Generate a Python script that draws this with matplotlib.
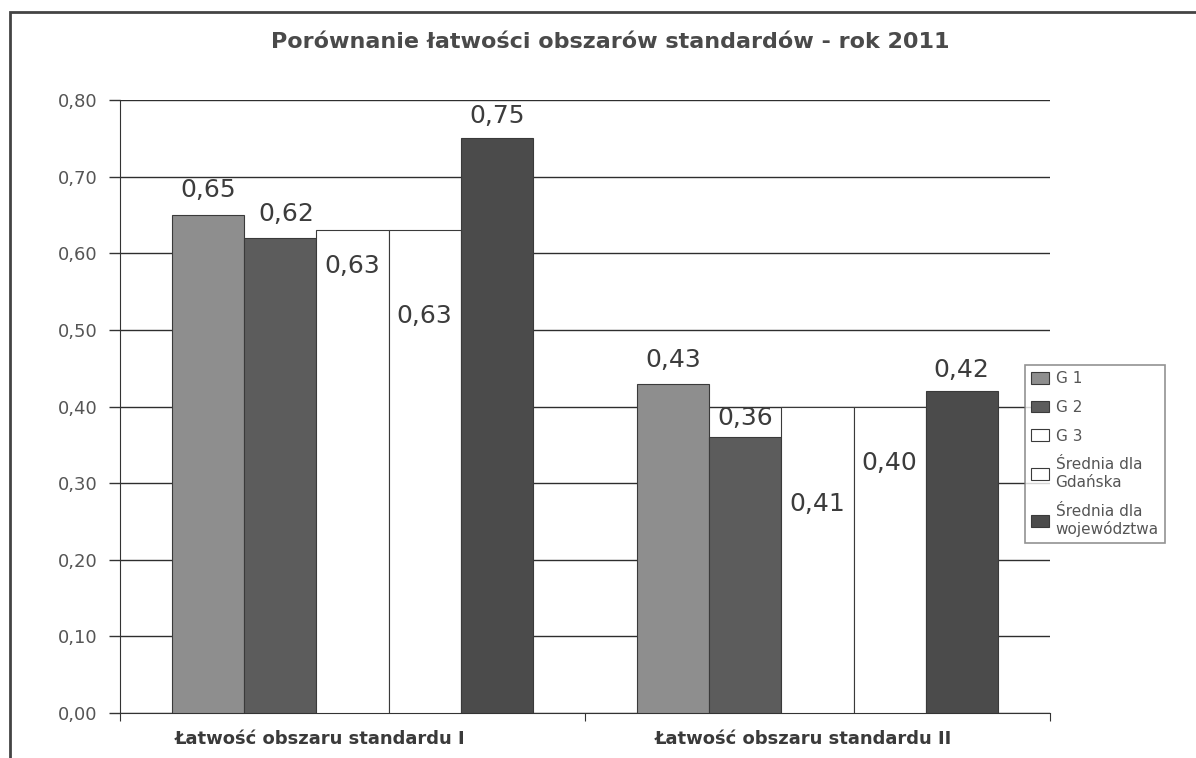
import matplotlib
matplotlib.use("Agg")
import matplotlib.pyplot as plt
import numpy as np
from matplotlib.patches import Rectangle
from matplotlib.ticker import FuncFormatter, FixedLocator

# data
categories = ["Łatwość obszaru standardu I", "Łatwość obszaru standardu II"]
series_names = ["G 1", "G 2", "G 3", "Średnia dla\nGdańska", "Średnia dla\nwojewództwa"]
g1 = [0.65, 0.43]
g2 = [0.62, 0.36]
g3 = [0.63, 0.40]
sr_gdansk = [0.63, 0.40]
sr_woj = [0.75, 0.42]
series_values = [g1, g2, g3, sr_gdansk, sr_woj]
label_texts = [["0,65", "0,43"], ["0,62", "0,36"], ["0,63", "0,41"],
               ["0,63", "0,40"], ["0,75", "0,42"]]

# styling
colors = ["#8e8e8e", "#5c5c5c", "#ffffff", "#ffffff", "#4b4b4b"]
# label offsets in points (dx, dy) from the bar top, as placed in the original
label_offsets = [[(0, 18), (0, 17)], [(4, 17), (0, 14)], [(0, -26), (0, -70)],
                 [(0, -62), (0, -41)], [(0, 16), (0, 15)]]
# category label shift (axis units), the original labels sit a bit left of centre
cat_label_shift = [-0.07, -0.03]

fig = plt.figure(figsize=(11.96, 7.58), dpi=100)
fig.patch.set_facecolor("white")
ax = fig.add_axes([120/1196, 1-713/758, 930/1196, 613/758])

x = np.arange(len(categories))
w = 0.155
for i, vals in enumerate(series_values):
    pos = x + (i - 2) * w
    bars = ax.bar(pos, vals, w, color=colors[i], edgecolor="#3a3a3a",
                  linewidth=0.8, label=series_names[i], zorder=3)
    for j, b in enumerate(bars):
        dx, dy = label_offsets[i][j]
        ax.annotate(label_texts[i][j], (b.get_x() + b.get_width()/2, b.get_height()),
                    xytext=(dx, dy), textcoords="offset points",
                    ha="center", va="center", fontsize=18, color="#3c3c3c",
                    zorder=5)

ax.set_ylim(0, 0.8)
ax.set_xlim(-0.5, 1.5)
ax.set_yticks(np.arange(0, 0.81, 0.1))
ax.yaxis.set_major_formatter(FuncFormatter(lambda v, p: ("%.2f" % v).replace(".", ",")))
ax.tick_params(axis="y", direction="out", length=8, width=1, colors="#333333",
               labelsize=13, labelcolor="#555555", pad=8)
ax.grid(axis="y", color="#2e2e2e", linewidth=1, zorder=0)
ax.set_axisbelow(True)

ax.xaxis.set_major_locator(FixedLocator([-0.5, 0.5, 1.5]))
ax.xaxis.set_major_formatter(FuncFormatter(lambda v, p: ""))
ax.xaxis.set_minor_locator(FixedLocator(x + np.array(cat_label_shift)))
ax.set_xticklabels(categories, minor=True)
ax.tick_params(axis="x", which="major", direction="out", length=6, colors="#333333")
ax.tick_params(axis="x", which="minor", length=0, labelsize=13, labelcolor="#3a3a3a", pad=12)
for lab in ax.get_xticklabels(minor=True):
    lab.set_fontweight("bold")

for s in ["top", "right"]:
    ax.spines[s].set_visible(False)
ax.spines["left"].set_color("#333333")
ax.spines["bottom"].set_color("#333333")

fig.text(610/1196, 1-42/758, "Porównanie łatwości obszarów standardów - rok 2011",
         ha="center", va="center", fontsize=16, fontweight="bold", color="#4a4a4a")

leg = fig.legend(loc="upper left", bbox_to_anchor=(1025/1196, 1-365/758),
                 fontsize=11, frameon=True, fancybox=False, labelspacing=0.9,
                 handlelength=1.2, handleheight=0.8, handletextpad=0.4,
                 borderpad=0.4, borderaxespad=0)
leg.get_frame().set_edgecolor("#777777")
leg.get_frame().set_linewidth(1.2)
for t in leg.get_texts():
    t.set_color("#555555")

# outer frame of the scanned chart
fig.patches.append(Rectangle((10/1196, -0.1), 1.2, 1-12/758 + 0.1,
                             transform=fig.transFigure, fill=False,
                             edgecolor="#444444", linewidth=2))

fig.savefig("out.png", dpi=100)
